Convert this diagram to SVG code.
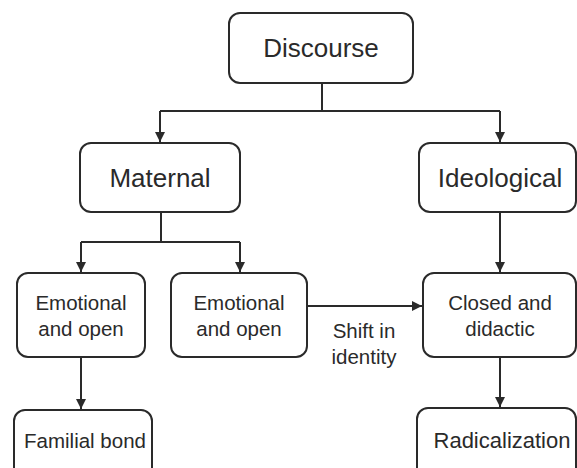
<svg xmlns="http://www.w3.org/2000/svg" width="577" height="468" viewBox="0 0 577 468">
<style>
.box{fill:#fff;stroke:#2a2a2a;stroke-width:2}
.t{font-family:"Liberation Sans",Arial,sans-serif;fill:#2a2a2a;text-anchor:middle}
.big{font-size:26px}
.sm{font-size:20.5px}
.c{fill:none;stroke:#2a2a2a;stroke-width:2}
</style>
<defs>
<marker id="ah" viewBox="0 0 10 10" refX="10" refY="5" markerWidth="10" markerHeight="10" markerUnits="userSpaceOnUse" orient="auto">
<path d="M0,0 L10,5 L0,10 Z" fill="#2a2a2a"/>
</marker>
</defs>
<rect width="577" height="468" fill="#fff"/>
<g id="connectors">
<path class="c" d="M322,83 V111"/>
<path class="c" d="M160,111 H500"/>
<path class="c" d="M160,111 V142" marker-end="url(#ah)"/>
<path class="c" d="M500,111 V142" marker-end="url(#ah)"/>
<path class="c" d="M161,212 V242"/>
<path class="c" d="M81,242 H240"/>
<path class="c" d="M81,242 V272" marker-end="url(#ah)"/>
<path class="c" d="M240,242 V272" marker-end="url(#ah)"/>
<path class="c" d="M500,212 V272" marker-end="url(#ah)"/>
<path class="c" d="M307,306 H422" marker-end="url(#ah)"/>
<path class="c" d="M81,357 V409" marker-end="url(#ah)"/>
<path class="c" d="M500,357 V407" marker-end="url(#ah)"/>
<text class="t sm" x="364" y="338">Shift in</text>
<text class="t sm" x="364" y="364">identity</text>
</g>
<g id="discourse">
<rect class="box" x="229" y="13" width="184" height="70" rx="11"/>
<text class="t big" x="321" y="57">Discourse</text>
</g>
<g id="maternal">
<rect class="box" x="80" y="143" width="160" height="69" rx="11"/>
<text class="t big" x="160" y="187">Maternal</text>
</g>
<g id="ideological">
<rect class="box" x="419" y="143" width="157" height="69" rx="11"/>
<text class="t big" x="500" y="187">Ideological</text>
</g>
<g id="emotional1">
<rect class="box" x="17" y="273" width="128" height="84" rx="11"/>
<text class="t sm" x="81" y="310">Emotional</text>
<text class="t sm" x="81" y="336">and open</text>
</g>
<g id="emotional2">
<rect class="box" x="171" y="273" width="136" height="84" rx="11"/>
<text class="t sm" x="239" y="310">Emotional</text>
<text class="t sm" x="239" y="336">and open</text>
</g>
<g id="closed">
<rect class="box" x="423" y="273" width="153" height="84" rx="11"/>
<text class="t sm" x="500" y="310">Closed and</text>
<text class="t sm" x="500" y="336">didactic</text>
</g>
<g id="familial">
<rect class="box" x="14" y="410" width="138" height="75" rx="11"/>
<text class="t sm" x="85" y="448">Familial bond</text>
</g>
<g id="radicalization">
<rect class="box" x="417" y="408" width="159" height="77" rx="11"/>
<text class="t" style="font-size:22px" x="502" y="448">Radicalization</text>
</g>
</svg>
